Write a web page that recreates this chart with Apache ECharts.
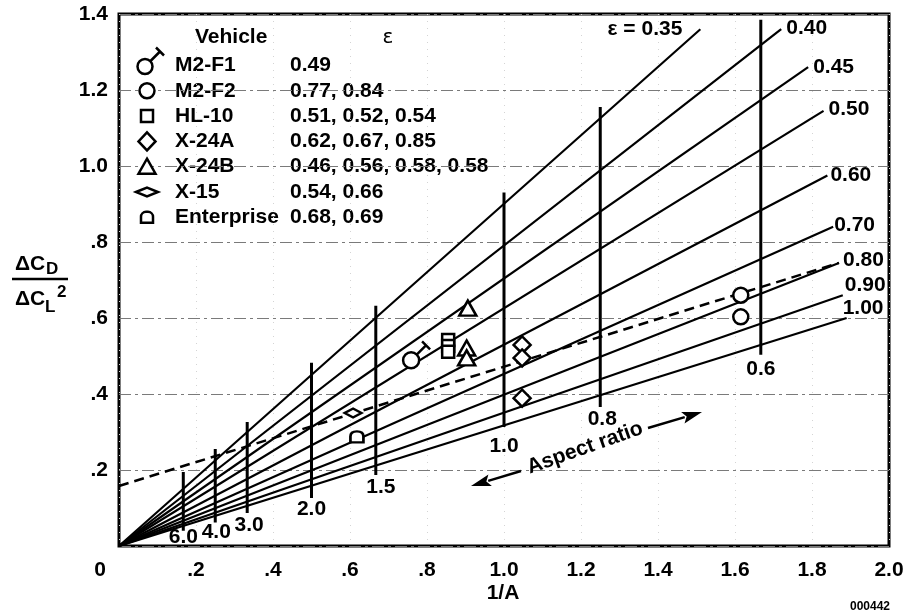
<!DOCTYPE html>
<html>
<head>
<meta charset="utf-8">
<script src="https://cdn.jsdelivr.net/npm/echarts@6/dist/echarts.min.js"></script>
<style>
  html, body { margin: 0; padding: 0; background: #fff; }
  #chart { width: 906px; height: 616px; }
</style>
</head>
<body>
<div id="chart"></div>
<script>
// ---- data -------------------------------------------------------------
// Constant-efficiency lines from the origin: end point of each line
const epsLabels = ['0.35', '0.40', '0.45', '0.50', '0.60', '0.70', '0.80', '0.90', '1.00'];
const epsEndX = [1.51, 1.72, 1.79, 1.83, 1.84, 1.855, 1.87, 1.88, 1.89];
const epsEndY = [1.36, 1.36, 1.26, 1.145, 0.975, 0.84, 0.745, 0.66, 0.60];

// Constant aspect-ratio lines (1/A) and their vertical extent
const aspectLabels = ['6.0', '4.0', '3.0', '2.0', '1.5', '1.0', '0.8', '0.6'];
const aspectX = [0.167, 0.25, 0.333, 0.5, 0.667, 1.0, 1.25, 1.667];
const aspectLow = [0.04, 0.062, 0.087, 0.126, 0.187, 0.313, 0.366, 0.503];
const aspectHigh = [0.195, 0.255, 0.326, 0.482, 0.632, 0.93, 1.155, 1.385];

// Dashed trend line
const trendX = [0, 1.87];
const trendY = [0.158, 0.745];

// Flight vehicles
const vehicles = ['M2-F1', 'M2-F2', 'HL-10', 'X-24A', 'X-24B', 'X-15', 'Enterprise'];
const vehicleEps = ['0.49', '0.77, 0.84', '0.51, 0.52, 0.54', '0.62, 0.67, 0.85',
                    '0.46, 0.56, 0.58, 0.58', '0.54, 0.66', '0.68, 0.69'];
const m2f1X = [0.76],                 m2f1Y = [0.49];
const m2f2X = [1.615, 1.615],         m2f2Y = [0.66, 0.603];
const hl10X = [0.855, 0.855, 0.855],  hl10Y = [0.542, 0.526, 0.511];
const x24aX = [1.047, 1.047, 1.047],  x24aY = [0.529, 0.495, 0.389];
const x24bX = [0.906, 0.903, 0.903],  x24bY = [0.626, 0.521, 0.495];
const x15X = [0.608],                 x15Y = [0.35];
const entX = [0.618],                 entY = [0.287];

const xTickLabels = ['0', '.2', '.4', '.6', '.8', '1.0', '1.2', '1.4', '1.6', '1.8', '2.0'];
const yTickLabels = ['', '.2', '.4', '.6', '.8', '1.0', '1.2', '1.4'];

// ---- styling ----------------------------------------------------------
const FONT = "'Liberation Sans', Arial, Helvetica, sans-serif";
const boldFont = (px) => 'bold ' + px + 'px ' + FONT;

// placement of the efficiency labels at the line ends
const epsLabelLayout = [
  { pos: 'left',  d: 18, dy: 0 },
  { pos: 'right', d: 5,  dy: -1 },
  { pos: 'right', d: 5,  dy: 0 },
  { pos: 'right', d: 5,  dy: -2 },
  { pos: 'right', d: 3,  dy: 0 },
  { pos: 'right', d: 1,  dy: -2 },
  { pos: 'right', d: 4,  dy: -3 },
  { pos: 'right', d: 2,  dy: -10 },
  { pos: 'right', d: -4, dy: -10 }
];
// placement of the aspect-ratio labels under the vertical lines
const aspectLabelLayout = [
  { d: -4, dx: 0 }, { d: -1, dx: 1 }, { d: 2, dx: 2 }, { d: 1, dx: 0 },
  { d: 2, dx: 5 }, { d: 9, dx: 0 }, { d: 2, dx: 2 }, { d: 4, dx: 0 }
];

// symbol outlines
const maleCirclePath = 'M8,70 A22,22 0 1,1 52,70 A22,22 0 1,1 8,70 Z M46,54 L72,28 M60,18 L82,40';
const domePath = 'M0,100 L0,45 C0,10 20,0 50,0 C80,0 100,10 100,45 L100,100 Z';
const flatDiamondPath = 'M0,5 L10,0 L20,5 L10,10 Z';

const hollow = { color: '#fff', borderColor: '#000', borderWidth: 2.5, opacity: 1 };

function pairs(xs, ys) { return xs.map((x, i) => [x, ys[i]]); }

const series = [];

// efficiency lines
epsLabels.forEach((lab, i) => {
  const lay = epsLabelLayout[i];
  series.push({
    type: 'line', silent: true, animation: false, z: 2,
    showSymbol: true, symbol: 'circle', symbolSize: 0.01,
    itemStyle: { color: '#000' },
    lineStyle: { color: '#000', width: 2.2 },
    data: [[0, 0], {
      value: [epsEndX[i], epsEndY[i]],
      label: {
        show: true, formatter: i === 0 ? '\u03b5 = ' + lab : lab,
        position: lay.pos, distance: lay.d, offset: [0, lay.dy],
        color: '#000', fontFamily: FONT, fontWeight: 'bold', fontSize: 21
      }
    }]
  });
});

// aspect-ratio lines
aspectLabels.forEach((lab, i) => {
  const lay = aspectLabelLayout[i];
  series.push({
    type: 'line', silent: true, animation: false, z: 3,
    showSymbol: true, symbol: 'circle', symbolSize: 0.01,
    itemStyle: { color: '#000' },
    lineStyle: { color: '#000', width: 3 },
    data: [[aspectX[i], aspectHigh[i]], {
      value: [aspectX[i], aspectLow[i]],
      label: {
        show: true, formatter: lab, position: 'bottom',
        distance: lay.d, offset: [lay.dx, 0],
        color: '#000', fontFamily: FONT, fontWeight: 'bold', fontSize: 21
      }
    }]
  });
});

// dashed trend
series.push({
  type: 'line', silent: true, animation: false, z: 4,
  showSymbol: false,
  lineStyle: { color: '#000', width: 2.5, type: [10, 6] },
  data: pairs(trendX, trendY)
});

// vehicle points
function scatter(name, xs, ys, symbol, size, extra) {
  return Object.assign({
    type: 'scatter', name: name, silent: true, animation: false, z: 6,
    symbol: symbol, symbolSize: size, itemStyle: hollow,
    data: pairs(xs, ys)
  }, extra || {});
}
series.push(scatter('M2-F1', m2f1X, m2f1Y, 'path://' + maleCirclePath, 27,
  { symbolKeepAspect: true, symbolOffset: [5, -5] }));
series.push(scatter('M2-F2', m2f2X, m2f2Y, 'circle', 15));
series.push(scatter('HL-10', hl10X, hl10Y, 'rect', 12));
series.push(scatter('X-24A', x24aX, x24aY, 'diamond', [17, 17]));
series.push(scatter('X-24B', x24bX, x24bY, 'triangle', [17, 15]));
series.push(scatter('X-15', x15X, x15Y, 'path://' + flatDiamondPath, [17, 9]));
series.push(scatter('Enterprise', entX, entY, 'path://' + domePath, [13, 11]));

// ---- annotations (legend table, titles, arrows) ------------------------
const graphics = [];
const rowY0 = 65.5, rowStep = 25.3, symX = 147;

graphics.push({ type: 'text', x: 195, y: 37, style: { text: 'Vehicle', font: boldFont(21), fill: '#000', align: 'left', verticalAlign: 'middle' } });
graphics.push({ type: 'text', x: 388, y: 38, style: { text: '\u03b5', font: '20px "DejaVu Sans", sans-serif', fill: '#000', align: 'center', verticalAlign: 'middle' } });

const symStyle = { fill: '#fff', stroke: '#000', lineWidth: 2.5 };
const lineStyle2 = { stroke: '#000', lineWidth: 2.5 };
vehicles.forEach((v, i) => {
  const cy = rowY0 + i * rowStep;
  graphics.push({ type: 'text', x: 175, y: cy, style: { text: v, font: boldFont(21), fill: '#000', align: 'left', verticalAlign: 'middle' } });
  graphics.push({ type: 'text', x: 290, y: cy, style: { text: vehicleEps[i], font: boldFont(21), fill: '#000', align: 'left', verticalAlign: 'middle' } });
  const g = [];
  switch (v) {
    case 'M2-F1': {
      const cx = 145, c = cy + 1;
      g.push({ type: 'line', shape: { x1: cx + 5.5, y1: c - 5.5, x2: cx + 15, y2: c - 15 }, style: lineStyle2 });
      g.push({ type: 'line', shape: { x1: cx + 11, y1: c - 19, x2: cx + 19, y2: c - 11 }, style: lineStyle2 });
      g.push({ type: 'circle', shape: { cx: cx, cy: c, r: 7.5 }, style: symStyle });
      break;
    }
    case 'M2-F2':
      g.push({ type: 'circle', shape: { cx: symX, cy: cy, r: 7.5 }, style: symStyle });
      break;
    case 'HL-10':
      g.push({ type: 'rect', shape: { x: symX - 6, y: cy - 6, width: 12, height: 12 }, style: symStyle });
      break;
    case 'X-24A':
      g.push({ type: 'polygon', shape: { points: [[symX, cy - 9], [symX + 8.5, cy], [symX, cy + 9], [symX - 8.5, cy]] }, style: symStyle });
      break;
    case 'X-24B':
      g.push({ type: 'polygon', shape: { points: [[symX, cy - 8], [symX + 8.5, cy + 7], [symX - 8.5, cy + 7]] }, style: symStyle });
      break;
    case 'X-15':
      g.push({ type: 'polygon', shape: { points: [[symX - 11, cy], [symX, cy - 4.5], [symX + 11, cy], [symX, cy + 4.5]] }, style: symStyle });
      break;
    default:
      g.push({ type: 'rect', shape: { x: symX - 6, y: cy - 5.5, width: 12, height: 11, r: [5, 5, 0, 0] }, style: symStyle });
  }
  g.forEach((e) => { e.z = 10; graphics.push(e); });
});

// y-axis title  ΔC_D / ΔC_L^2
graphics.push({ type: 'text', x: 15, y: 264, style: { text: '\u0394C', font: boldFont(21), fill: '#000', align: 'left', verticalAlign: 'middle' } });
graphics.push({ type: 'text', x: 46, y: 269, style: { text: 'D', font: boldFont(17), fill: '#000', align: 'left', verticalAlign: 'middle' } });
graphics.push({ type: 'line', shape: { x1: 12, y1: 279, x2: 68, y2: 279 }, style: { stroke: '#000', lineWidth: 2.5 } });
graphics.push({ type: 'text', x: 15, y: 299, style: { text: '\u0394C', font: boldFont(21), fill: '#000', align: 'left', verticalAlign: 'middle' } });
graphics.push({ type: 'text', x: 45, y: 307, style: { text: 'L', font: boldFont(17), fill: '#000', align: 'left', verticalAlign: 'middle' } });
graphics.push({ type: 'text', x: 57, y: 292, style: { text: '2', font: boldFont(17), fill: '#000', align: 'left', verticalAlign: 'middle' } });

// x-axis title and figure number
graphics.push({ type: 'text', x: 503, y: 593, style: { text: '1/A', font: boldFont(21), fill: '#000', align: 'center', verticalAlign: 'middle' } });
graphics.push({ type: 'text', x: 890, y: 607, style: { text: '000442', font: boldFont(12), fill: '#000', align: 'right', verticalAlign: 'middle' } });

// "Aspect ratio" with arrows
graphics.push({ type: 'text', x: 585, y: 448, rotation: 0.34, z: 10,
  style: { text: 'Aspect ratio', font: boldFont(21), fill: '#000', align: 'center', verticalAlign: 'middle' } });
function arrow(tail, tip, len, half) {
  const dx = tip[0] - tail[0], dy = tip[1] - tail[1];
  const L = Math.hypot(dx, dy), ux = dx / L, uy = dy / L;
  const bx = tip[0] - ux * len, by = tip[1] - uy * len;
  const nx = -uy, ny = ux;
  graphics.push({ type: 'line', z: 10, shape: { x1: tail[0], y1: tail[1], x2: bx + ux * 2, y2: by + uy * 2 }, style: { stroke: '#000', lineWidth: 2.5 } });
  graphics.push({ type: 'polygon', z: 10, shape: { points: [tip, [bx + nx * half, by + ny * half], [bx + ux * 4, by + uy * 4], [bx - nx * half, by - ny * half]] }, style: { fill: '#000' } });
}
arrow([648, 428], [702, 412], 20, 6);
arrow([521, 471], [471, 486], 20, 6);

// ---- chart ------------------------------------------------------------
const chart = echarts.init(document.getElementById('chart'), null, { renderer: 'canvas' });
chart.setOption({
  backgroundColor: '#fff',
  animation: false,
  grid: {
    left: 119, right: 17, top: 14, bottom: 70,
    containLabel: false, outerBoundsMode: 'none',
    show: true, borderColor: '#000', borderWidth: 3, backgroundColor: 'transparent'
  },
  xAxis: {
    type: 'value', min: 0, max: 2, interval: 0.2,
    axisLine: { show: false }, axisTick: { show: false },
    splitLine: { show: true, lineStyle: { color: '#d4d4d4', width: 1, type: [1, 6] } },
    axisLabel: {
      margin: 14, color: '#000', fontFamily: FONT, fontWeight: 'bold', fontSize: 21,
      formatter: (v) => {
        const idx = Math.round(v / 0.2);
        return idx === 0 ? '{z|' + xTickLabels[0] + '}' : xTickLabels[idx];
      },
      rich: { z: { padding: [0, 38, 0, 0], color: '#000', fontFamily: FONT, fontWeight: 'bold', fontSize: 21 } }
    }
  },
  yAxis: {
    type: 'value', min: 0, max: 1.4, interval: 0.2,
    axisLine: { show: false }, axisTick: { show: false },
    splitLine: { show: true, lineStyle: { color: '#7a7a7a', width: 1, type: [12, 4, 3, 4] } },
    axisLabel: {
      margin: 11, color: '#000', fontFamily: FONT, fontWeight: 'bold', fontSize: 21,
      formatter: (v) => yTickLabels[Math.round(v / 0.2)]
    }
  },
  series: series,
  graphic: graphics
});
</script>
</body>
</html>
